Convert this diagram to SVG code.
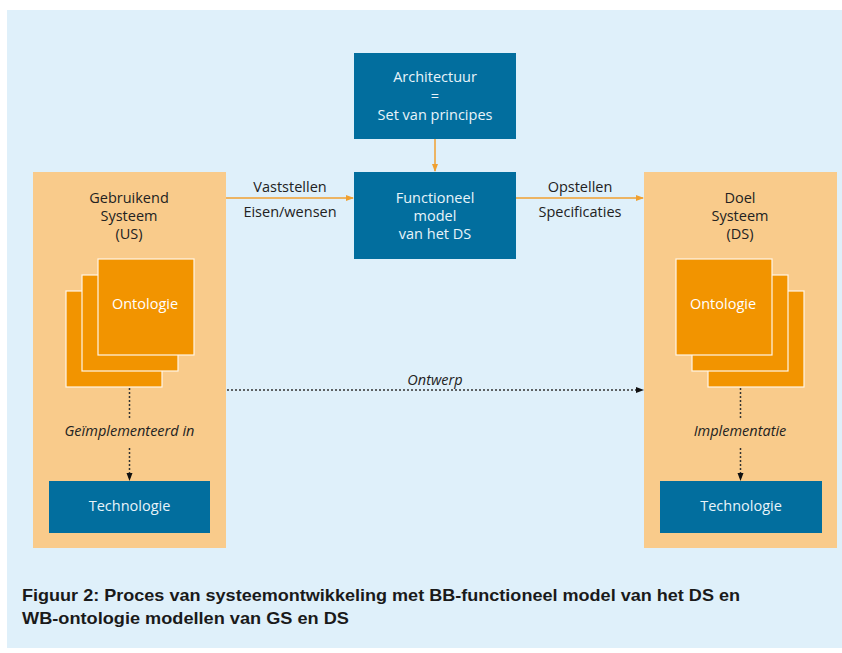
<svg xmlns="http://www.w3.org/2000/svg" width="842" height="653" viewBox="0 0 842 653">
<style>
.bg{fill:#dff0fa}
.panel{fill:#f9cb8b}
.onto{fill:#f29400;stroke:#fff6e6;stroke-width:1.2}
.blue{fill:#026e9e}
.t{font-family:"Open Sans","Noto Sans",sans-serif;font-size:14.5px;text-anchor:middle}
.dark{fill:#222}
.white{fill:#fff}
.wl{fill:#e8f4fa}
.it{font-style:italic}
.cap{font-family:"Liberation Sans",Arial,sans-serif;font-weight:bold;font-size:16.5px;fill:#1a1a1a}
.orange{stroke:#f0a030;stroke-width:1.5;fill:none}
.dot{stroke:#333;stroke-width:1.5;stroke-dasharray:2 2;fill:none}
</style>
<defs>
<marker id="ao" markerWidth="8" markerHeight="8" refX="7" refY="4" orient="auto" markerUnits="userSpaceOnUse">
<path d="M0,1 L8,4 L0,7 Z" fill="#f0a030"/>
</marker>
<marker id="ak" markerWidth="8" markerHeight="8" refX="7" refY="4" orient="auto" markerUnits="userSpaceOnUse">
<path d="M0,1 L8,4 L0,7 Z" fill="#111"/>
</marker>
</defs>
<rect class="bg" x="7" y="10" width="835" height="638"/>

<g id="us">
<rect class="panel" x="33" y="172" width="193" height="376"/>
<text class="t dark" x="129" y="203">Gebruikend</text>
<text class="t dark" x="129" y="221">Systeem</text>
<text class="t dark" x="129" y="239">(US)</text>
</g>
<g id="us-ontologie">
<rect class="onto" x="66" y="291" width="96" height="96"/>
<rect class="onto" x="82" y="275" width="96" height="96"/>
<rect class="onto" x="98" y="259" width="96" height="96"/>
<text class="t white" x="145" y="309">Ontologie</text>
</g>
<g id="us-technologie">
<rect class="blue" x="49" y="481" width="161" height="52"/>
<text class="t wl" x="129.5" y="511">Technologie</text>
</g>

<g id="ds">
<rect class="panel" x="644" y="172" width="193" height="376"/>
<text class="t dark" x="740" y="203">Doel</text>
<text class="t dark" x="740" y="221">Systeem</text>
<text class="t dark" x="740" y="239">(DS)</text>
</g>
<g id="ds-ontologie">
<rect class="onto" x="708" y="291" width="96" height="96"/>
<rect class="onto" x="692" y="275" width="96" height="96"/>
<rect class="onto" x="676" y="259" width="96" height="96"/>
<text class="t white" x="723" y="309">Ontologie</text>
</g>
<g id="ds-technologie">
<rect class="blue" x="660" y="481" width="162" height="52"/>
<text class="t wl" x="741" y="511">Technologie</text>
</g>

<g id="architectuur">
<rect class="blue" x="354" y="53" width="162" height="86"/>
<text class="t wl" x="435" y="82">Architectuur</text>
<text class="t wl" x="435" y="101">=</text>
<text class="t wl" x="435" y="120">Set van principes</text>
</g>
<g id="functioneel">
<rect class="blue" x="354" y="172" width="162" height="87"/>
<text class="t wl" x="435" y="203">Functioneel</text>
<text class="t wl" x="435" y="221">model</text>
<text class="t wl" x="435" y="239">van het DS</text>
</g>

<g id="connectors">
<line class="orange" x1="435" y1="139" x2="435" y2="171" marker-end="url(#ao)"/>
<line class="orange" x1="226" y1="198" x2="353" y2="198" marker-end="url(#ao)"/>
<line class="orange" x1="516" y1="198" x2="643" y2="198" marker-end="url(#ao)"/>
<line class="dot" x1="227" y1="390" x2="643" y2="390" marker-end="url(#ak)"/>
<line class="dot" x1="129.5" y1="388" x2="129.5" y2="419"/>
<line class="dot" x1="129.5" y1="448" x2="129.5" y2="480" marker-end="url(#ak)"/>
<line class="dot" x1="740.5" y1="388" x2="740.5" y2="419"/>
<line class="dot" x1="740.5" y1="448" x2="740.5" y2="480" marker-end="url(#ak)"/>
<text class="t dark" x="290" y="192">Vaststellen</text>
<text class="t dark" x="290" y="217">Eisen/wensen</text>
<text class="t dark" x="580" y="192">Opstellen</text>
<text class="t dark" x="580" y="217">Specificaties</text>
<text class="t dark it" x="435" y="385">Ontwerp</text>
<text class="t dark it" x="129.5" y="436">Geïmplementeerd in</text>
<text class="t dark it" x="740" y="436">Implementatie</text>
</g>

<text class="cap" x="22" y="601" textLength="718" lengthAdjust="spacingAndGlyphs">Figuur 2: Proces van systeemontwikkeling met BB-functioneel model van het DS en</text>
<text class="cap" x="22" y="624" textLength="327" lengthAdjust="spacingAndGlyphs">WB-ontologie modellen van GS en DS</text>
</svg>
